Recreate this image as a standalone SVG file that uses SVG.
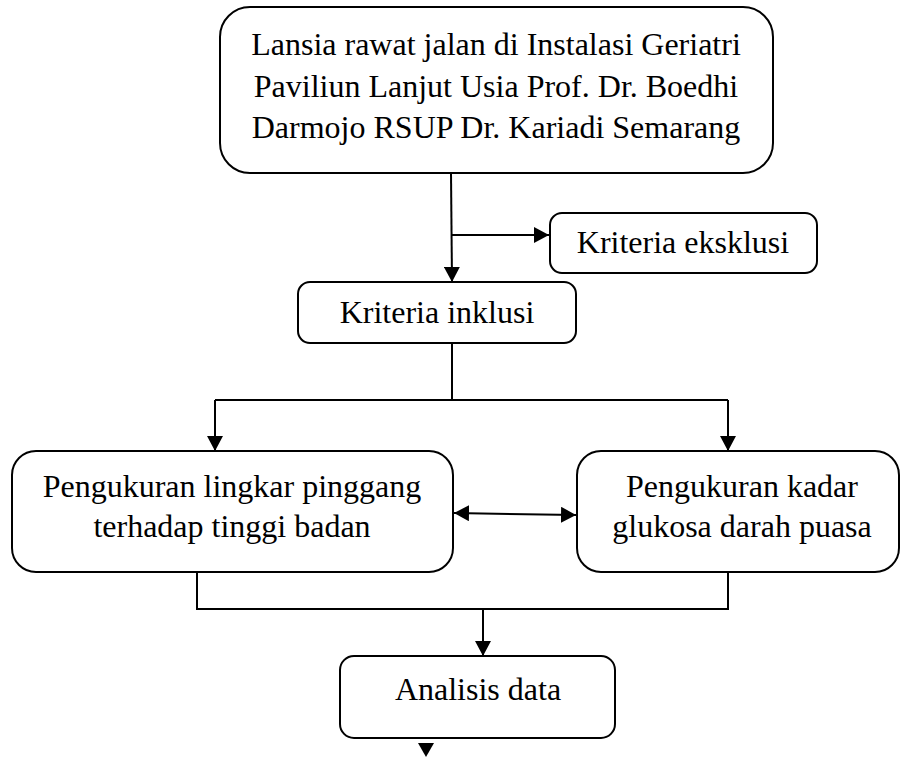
<svg xmlns="http://www.w3.org/2000/svg" width="901" height="758" viewBox="0 0 901 758">
<style>
  .box { fill: #ffffff; stroke: #000000; stroke-width: 2; }
  .lbl { font-family: "Liberation Serif", "Times New Roman", serif; font-size: 32px; fill: #000000; text-anchor: middle; }
  .conn { fill: none; stroke: #000000; stroke-width: 2; }
  .arr { marker-end: url(#ah); }
</style>
<defs>
  <marker id="ah" viewBox="0 0 15 16" refX="15" refY="8" markerWidth="15" markerHeight="16" markerUnits="userSpaceOnUse" orient="auto-start-reverse">
    <path d="M0,0 L15,8 L0,16 z" fill="#000000"/>
  </marker>
</defs>
<rect width="901" height="758" fill="#ffffff"/>

<g id="connectors">
  <line class="conn arr" x1="451" y1="173" x2="452" y2="282"/>
  <line class="conn arr" x1="451" y1="235" x2="549" y2="235"/>
  <polyline class="conn" points="452,343 452,400"/>
  <polyline class="conn" points="215,400 728,400"/>
  <line class="conn arr" x1="215" y1="400" x2="215" y2="451"/>
  <line class="conn arr" x1="728" y1="400" x2="728" y2="451"/>
  <line class="conn" x1="454" y1="513" x2="576" y2="515" marker-start="url(#ah)" marker-end="url(#ah)"/>
  <polyline class="conn" points="197,572 197,609 728,609 728,572"/>
  <line class="conn arr" x1="483" y1="609" x2="483" y2="656"/>
  <polygon points="418,743 434,743 426,757" fill="#000000"/>
</g>

<g id="n_lansia">
  <rect class="box" x="220" y="7" width="553" height="166" rx="30" ry="30"/>
  <text class="lbl" x="496" y="55">Lansia rawat jalan di Instalasi Geriatri</text>
  <text class="lbl" x="496" y="97">Paviliun Lanjut Usia Prof. Dr. Boedhi</text>
  <text class="lbl" x="496" y="138">Darmojo RSUP Dr. Kariadi Semarang</text>
</g>

<g id="n_eksklusi">
  <rect class="box" x="550" y="213" width="267" height="60" rx="12" ry="12"/>
  <text class="lbl" x="683" y="253">Kriteria eksklusi</text>
</g>

<g id="n_inklusi">
  <rect class="box" x="298" y="282" width="278" height="61" rx="12" ry="12"/>
  <text class="lbl" x="437" y="323">Kriteria inklusi</text>
</g>

<g id="n_lingkar">
  <rect class="box" x="12" y="451" width="441" height="121" rx="24" ry="24"/>
  <text class="lbl" x="232" y="497">Pengukuran lingkar pinggang</text>
  <text class="lbl" x="232" y="537">terhadap tinggi badan</text>
</g>

<g id="n_glukosa">
  <rect class="box" x="577" y="451" width="322" height="121" rx="24" ry="24"/>
  <text class="lbl" x="742" y="497">Pengukuran kadar</text>
  <text class="lbl" x="742" y="537">glukosa darah puasa</text>
</g>

<g id="n_analisis">
  <rect class="box" x="340" y="656" width="275" height="82" rx="14" ry="14"/>
  <text class="lbl" x="478" y="700">Analisis data</text>
</g>
</svg>
